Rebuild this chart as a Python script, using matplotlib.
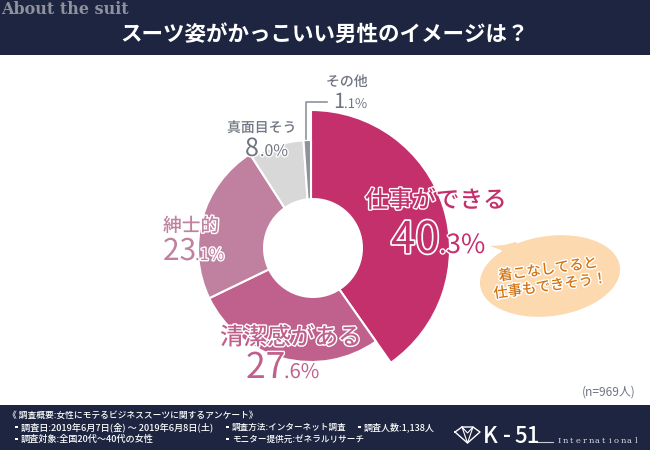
import matplotlib
matplotlib.use("Agg")
import matplotlib.pyplot as plt
import matplotlib.patheffects as pe
from matplotlib.patches import Wedge, Rectangle, Ellipse, Polygon, Circle

plt.rcParams['font.family'] = ['Noto Sans CJK JP', 'DejaVu Sans']

# ---------- Data ----------
categories = ["仕事ができる", "清潔感がある", "紳士的", "真面目そう", "その他"]
values = [40.3, 27.6, 23.1, 8.0, 1.1]
whole_parts = ["40", "27", "23", "8", "1"]
decimal_parts = [".3%", ".6%", ".1%", ".0%", ".1%"]

title = "スーツ姿がかっこいい男性のイメージは？"
tag = "About the suit"
sample_note = "(n=969人)"
bubble_lines = "着こなしてると\n仕事もできそう！"
footer_head = "《 調査概要:女性にモテるビジネススーツに関するアンケート》"
footer_left = ["調査日:2019年6月7日(金) 〜 2019年6月8日(土)", "調査対象:全国20代〜40代の女性"]
footer_mid = ["調査方法:インターネット調査", "モニター提供元:ゼネラルリサーチ"]
footer_count = "調査人数:1,138人"
logo_word = "International"

# ---------- Style ----------
NAVY = "#1d2541"
slice_colors = ["#c4306c", "#c0608c", "#c081a0", "#d8d8d8", "#8e929c"]
text_colors = ["#c4306c", "#c0608c", "#c081a0", "#6f7580", "#6f7580"]
slice_radius = [139, 113, 113, 109, 109]
CX, CY = 311, 450 - 249
BUBBLE = "#fcd9ae"


def y_(py):
    return 450 - py


def label(x, py, s, size, color, stroke=2.0, va="center", **kw):
    t = ax.text(x, y_(py), s, fontsize=size, color=color, va=va, **kw)
    if stroke:
        t.set_path_effects([pe.withStroke(linewidth=stroke, foreground="white")])
    return t


def footer_text(x, py, s, size, bullet=True):
    if bullet:
        ax.add_patch(Rectangle((x, y_(py) - 1.2), 2.6, 2.6, color="white", lw=0))
        x += 6
    ax.text(x, y_(py), s, fontsize=size, color="white", va="center", weight="medium")


fig = plt.figure(figsize=(6.5, 4.5), dpi=100)
ax = fig.add_axes([0, 0, 1, 1])
ax.set_xlim(0, 650)
ax.set_ylim(0, 450)
ax.axis("off")

# header and footer bands
ax.add_patch(Rectangle((0, y_(55)), 650, 55, color=NAVY, lw=0))
ax.add_patch(Rectangle((0, 0), 650, 45, color=NAVY, lw=0))
ax.text(1, y_(9), tag, fontsize=11.5, color="#8f919c", family="DejaVu Serif",
        weight="bold", va="center")
ax.text(325, y_(34), title, fontsize=15.5, color="white", ha="center", va="center",
        weight="bold")

# ---------- Donut ----------
angle = 90.0
for val, color, r in zip(values, slice_colors, slice_radius):
    sweep = val * 360 / sum(values)
    ax.add_patch(Wedge((CX, CY), r, angle - sweep, angle, facecolor=color,
                       edgecolor="white", lw=1.5))
    angle -= sweep
ax.add_patch(Circle((313, y_(248)), 50, color="white", lw=0))

# leader for the small slice
ax.plot([327, 306, 306], [y_(102), y_(102), y_(139)], color="#8e929c", lw=1.2)

# ---------- Labels ----------
label(365, 201, categories[0], 17, text_colors[0], weight="medium")
label(391, 253, whole_parts[0], 31.5, text_colors[0], stroke=2.5, va="baseline")
label(439, 253, decimal_parts[0], 19, text_colors[0], va="baseline")

label(220, 338, categories[1], 17, text_colors[1], weight="medium")
label(246, 378, whole_parts[1], 25.5, text_colors[1], va="baseline")
label(284, 378, decimal_parts[1], 14.5, text_colors[1], va="baseline")

label(163, 226, categories[2], 13.5, text_colors[2], weight="medium")
label(163, 260, whole_parts[2], 21.5, text_colors[2], va="baseline")
label(195, 260, decimal_parts[2], 12, text_colors[2], va="baseline")

label(227, 128, categories[3], 10, text_colors[3], weight="medium")
label(245, 156, whole_parts[3], 18, text_colors[3], va="baseline")
label(260, 156, decimal_parts[3], 11.5, text_colors[3], va="baseline")

label(326, 82, categories[4], 10, text_colors[4], weight="medium")
label(334, 108, whole_parts[4], 15, text_colors[4], va="baseline")
label(344, 108, decimal_parts[4], 9.5, text_colors[4], va="baseline")

# ---------- Speech bubble ----------
ax.add_patch(Ellipse((550, y_(276)), 141, 80, angle=8, color=BUBBLE, lw=0))
ax.add_patch(Polygon([(490, y_(246)), (504, y_(245)), (516, y_(242)), (522, y_(252)),
                      (507, y_(258)), (501, y_(250))], color=BUBBLE, lw=0))
t = ax.text(549, y_(278), bubble_lines, fontsize=10.3, color="#d4720f", rotation=8,
            ha="center", va="center", linespacing=1.25, weight="medium")
t.set_path_effects([pe.withStroke(linewidth=2, foreground="white")])

ax.text(636, y_(392), sample_note, fontsize=8.6, color="#6f7580", ha="right", va="center")

# ---------- Footer ----------
footer_text(8, 415, footer_head, 6.3, bullet=False)
footer_text(15, 427, footer_left[0], 6.6)
footer_text(15, 439, footer_left[1], 6.6)
footer_text(226, 427, footer_mid[0], 6.2)
footer_text(226, 439, footer_mid[1], 6.2)
footer_text(358, 427, footer_count, 6.5)

# logo
ax.plot([455, 462, 473, 480, 467.5, 455], [y_(432), y_(427), y_(427), y_(432), y_(443),
        y_(432)], color="white", lw=1.0)
ax.plot([462, 467.5, 473, 467.5, 462], [y_(427), y_(443), y_(427), y_(433), y_(427)],
        color="white", lw=0.8)
ax.text(483, y_(443), "K", fontsize=16, color="white", va="baseline", weight="medium")
ax.text(503, y_(443), "-", fontsize=16, color="white", va="baseline", weight="medium")
ax.text(514, y_(443), "51", fontsize=16, color="white", va="baseline", weight="medium")
ax.plot([537, 553], [y_(442), y_(442)], color="#c9ccd4", lw=0.8)
for i, ch in enumerate(logo_word):
    ax.text(559 + i * 6.4, y_(443), ch, fontsize=6, color="#d9dbe2", ha="center",
            family="DejaVu Serif", va="baseline")

fig.savefig("out.png", dpi=100)
